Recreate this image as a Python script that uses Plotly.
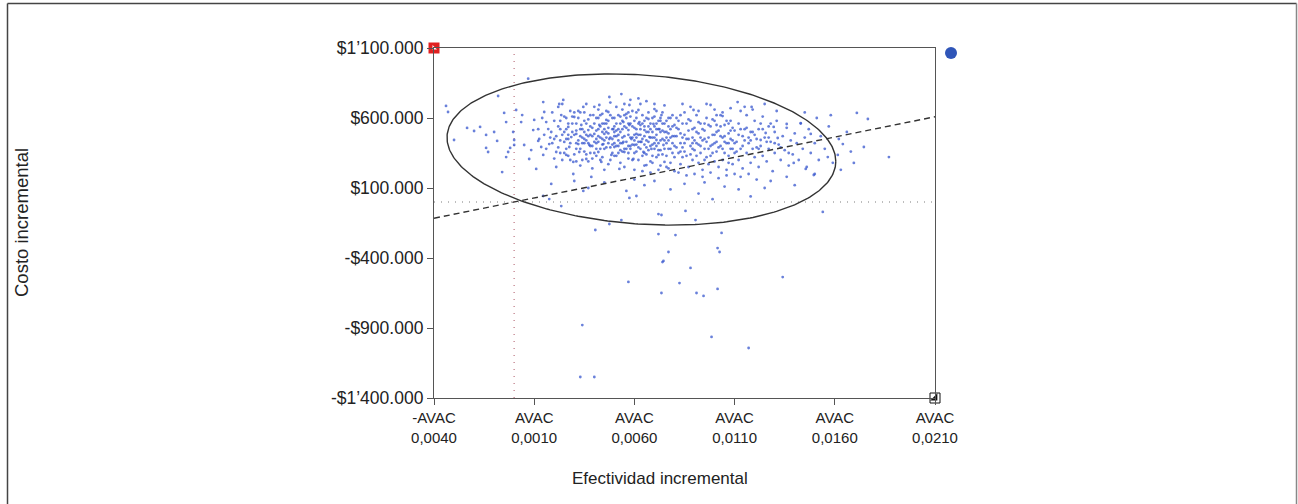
import numpy as np
import plotly.graph_objects as go

# ---------------- axis definitions ----------------
x_range = [-0.004, 0.021]
y_range = [-1400000, 1100000]
x_tickvals = [-0.004, 0.001, 0.006, 0.011, 0.016, 0.021]
x_ticktext = ["-AVAC<br>0,0040", "AVAC<br>0,0010", "AVAC<br>0,0060",
              "AVAC<br>0,0110", "AVAC<br>0,0160", "AVAC<br>0,0210"]
y_tickvals = [1100000, 600000, 100000, -400000, -900000, -1400000]
y_ticktext = ["$1\u2019100.000", "$600.000", "$100.000", "-$400.000",
              "-$900.000", "-$1\u2019400.000"]
x_title = "Efectividad incremental"
y_title = "Costo incremental"

# ---------------- simulation points (x: AVAC x 1e-4, y: $ thousands) ----------------
points_left = [(-34,686),(-33,643),(-30,443),(-23.5,529),(-20,507),(-17,536),(-14,479),(-14,386),(-13,357),(-10,500),
    (-8.5,436),(-8,757),(-6,214),(-5,636),(-4,571),(-4,321),(-3,357),(-2,386),(-0.5,500),(0,443),(0,407),(1,657),
    (3.5,571),(4,621),(5,407),(7,881),(7.5,307),(8.5,371),(9.5,514),(10,586),(11,236),(12,436),(12.5,450),(13.5,393),
    (14.5,714),(14.5,336),(15,643),(16,571),(17,521),(17.5,414),(18.5,500),(20,450),(21,357),(22,679),(22.5,700),
    (23.5,621),(24.5,729),(25,500),(25,429),(26,336),(27,536),(27.5,393),(28.5,464),(29.5,286),(29.5,200),(30,607),
    (31,486),(32,414),(32.5,357),(33.5,550),(34.5,679),(35,450),(36,307),(37,514),(37.5,407),(38.5,179),(39.5,621),
    (40,486),(41,450),(42,357),(42.5,693),(42.5,550),(43.5,286),(44.5,414),(45,486),(46,586),(47,643),(47.5,750),
    (47.5,450),(48.5,336),(49.5,521),(50,393),(51,679),(52,479),(52.5,236),(53.5,771),(54.5,571),(54.5,429),(55,357),
    (56,629),(57,514),(57.5,550),(57.5,693),(58.5,450),(59.5,307),(60,407),(61,486),(62,657),(62.5,571),(63.5,429),
    (64.5,357),(65,514),(66,264),(67,593),(67.5,464),(68.5,379),(69.5,557),(70,664),(71,443),(72,336),(72.5,521),
    (73.5,621),(74.5,407),(75,286)]

points_band_20_50 = [(20,580),(21,470),(22,390),(23,520),(24,300),(25,610),(26,450),(26,380),(27,560),(28,420),
    (28,650),(29,500),(30,340),(31,560),(31,420),(32,600),(33,470),(33,380),(34,520),(35,640),(35,360),(36,440),
    (36,560),(37,290),(38,480),(38,620),(39,400),(39,530),(40,350),(40,680),(41,510),(41,420),(42,600),(42,470),
    (43,380),(43,540),(44,320),(44,630),(45,440),(45,560),(46,390),(46,500),(47,270),(47,580),(48,460),(48,620),
    (49,410),(49,350),(50,540),(50,470),(21,250),(24,700),(27,330),(30,640),(33,260),(36,700),(39,240),(42,660),
    (45,230),(48,710),(23,440),(29,610),(34,300),(37,590),(41,330),(44,500),(47,420),(50,600),(25,350),(32,440),
    (38,350),(43,460),(46,650),(49,520),(31,290),(40,560),(26,520),(35,500),(44,410),(48,300)]

points_band_50_80 = [(50,420),(51,560),(51,330),(52,620),(52,400),(53,500),(53,280),(54,460),(54,660),(55,380),
    (55,540),(56,430),(56,600),(57,310),(57,480),(58,560),(58,400),(59,650),(59,460),(60,350),(60,530),(61,600),
    (61,410),(62,480),(62,300),(63,550),(63,380),(64,620),(64,450),(65,410),(65,580),(66,340),(66,500),(67,640),
    (67,430),(68,290),(68,520),(69,460),(69,600),(70,380),(70,540),(71,480),(71,320),(72,580),(72,420),(73,500),
    (73,260),(74,640),(74,450),(75,380),(75,560),(76,500),(76,330),(77,600),(77,440),(78,520),(78,280),(79,470),
    (79,620),(80,400),(80,550),(51,470),(53,610),(55,250),(57,640),(59,300),(61,520),(63,700),(65,260),(67,370),
    (69,330),(71,650),(73,370),(75,690),(77,240),(79,350),(52,350),(54,520),(56,380),(58,460),(60,440),(62,560),
    (64,330),(66,440),(68,400),(70,460),(72,520),(74,340),(76,420),(78,380),(80,320),(58,730),(62,740),(66,720),
    (70,700),(55,700),(60,230),(64,220),(68,210),(72,230),(76,250),(80,220),(53,420),(57,400),(61,360),(65,470),
    (69,410),(73,440),(77,490),(54,580),(63,480),(71,400)]

points_band_80_110 = [(81,470),(81,600),(82,350),(82,520),(83,420),(83,270),(84,560),(84,390),(85,480),(85,640),
    (86,330),(86,450),(87,510),(87,250),(88,400),(88,580),(89,460),(89,300),(90,530),(90,370),(91,620),(91,420),
    (92,280),(92,490),(93,350),(93,560),(94,440),(94,230),(95,510),(95,380),(96,600),(96,320),(97,460),(97,270),
    (98,540),(98,400),(99,350),(99,480),(100,290),(100,580),(101,430),(101,360),(102,510),(102,250),(103,620),
    (103,400),(104,460),(104,300),(105,550),(105,350),(106,420),(106,230),(107,490),(107,330),(108,580),(108,380),
    (109,440),(109,270),(110,510),(110,350),(84,700),(88,680),(92,650),(96,700),(100,660),(104,640),(108,670),
    (82,210),(86,190),(90,200),(94,180),(98,210),(102,170),(106,190),(110,200),(83,620),(89,380),(95,450),
    (101,550),(107,420),(104,614),(98,693),(89.5,657)]

points_band_110_140 = [(111,430),(112,300),(112,560),(113,380),(114,470),(114,240),(115,520),(116,350),(116,620),
    (117,420),(118,280),(118,500),(119,380),(120,580),(120,320),(121,450),(122,250),(122,520),(123,400),(124,330),
    (124,610),(125,460),(126,290),(127,540),(127,380),(128,430),(129,220),(130,500),(130,350),(131,580),(132,410),
    (133,300),(134,470),(135,370),(136,530),(137,260),(138,440),(139,340),(140,490),(115,680),(119,660),(125,700),
    (131,650),(113,180),(121,160),(128,150),(136,180),(117,200),(133,390),(136,557),(129.5,536),(125.5,493),
    (123,443),(118.5,679),(113,650),(111.5,714),(131.5,457),(137,350),(139.5,279)]

points_band_140_190 = [(141,420),(142,300),(143,560),(144,380),(145,460),(146,250),(147,520),(148,350),(150,420),
    (151,600),(152,300),(153,470),(155,380),(156.5,321),(157,540),(159,280),(161.5,336),(162,450),(164,414),
    (166,500),(168,360),(169.5,279),(171,636),(174.5,393),(176.5,593),(187,321),(145,640),(150,200),(158,620),
    (163,230),(143,564),(148,486),(149.5,193),(145.5,236)]

points_dense_extra = [(12,520),(14,600),(16,380),(18,460),(19,640),(20,310),(22,540),(23,350),(24,480),(26,600),
    (27,450),(28,300),(29,560),(30,480),(31,380),(32,650),(33,520),(34,420),(35,580),(36,340),(37,470),(38,540),
    (39,310),(40,430),(41,600),(42,520),(43,300),(44,560),(45,380),(46,460),(47,530),(48,390),(49,600),(50,330),
    (51,510),(52,440),(53,560),(54,360),(55,470),(56,530),(57,350),(58,610),(59,410),(60,580),(61,460),(62,390),
    (63,520),(64,560),(65,350),(66,600),(67,500),(68,460),(69,280),(70,610),(71,560),(72,370),(73,600),(74,510),
    (75,440),(76,580),(77,380),(78,460),(79,540),(80,470),(81,390),(82,580),(83,490),(84,320),(85,420),(86,560),
    (87,450),(88,340),(89,520),(90,440),(91,330),(92,570),(93,460),(94,520),(95,300),(96,430),(97,550),(98,330),
    (99,590),(100,420),(101,500),(102,390),(103,540),(104,380),(105,470),(106,580),(107,280),(108,450),(109,530),
    (110,420),(112,480),(114,400),(116,530),(118,440),(120,480),(122,380),(124,520),(126,430),(128,560),(130,420),
    (15,480),(19,420),(23,580),(27,480),(31,510),(35,420),(39,470),(43,620),(47,490),(51,400),(55,620),(59,540),
    (63,430),(67,540),(71,520),(75,500),(79,420),(83,360),(87,590),(91,500),(95,560),(99,410),(103,470),(107,560),
    (111,360),(115,440),(119,500),(123,560),(127,460),(33,640),(37,420),(41,380),(45,520),(49,450),(53,370),
    (57,560),(61,640),(65,540),(69,500),(73,580),(77,540),(81,530),(85,360),(89,420),(93,400),(97,380),(101,620),
    (105,430),(109,380),(113,520),(117,460),(121,390),(36,480),(44,450),(52,520),(60,480),(68,560),(76,460),
    (84,460),(92,410),(100,480),(108,510),(58,380),(62,430),(66,390),(70,420),(74,560),(78,600),(54,420),(50,500),
    (46,560),(42,430),(38,400),(34,460)]

points_low = [(65,120),(78,90),(92,60),(105,110),(118,40),(70,150),(85,130),(99,20),(112,90),(125,100),(60,160),
    (45,140),(30,150),(140,120),(95,140),
    (18.5,129),(40.5,-200),(57,-571),(73.5,-650),(34,-879),(33,-1250),(40,-1250),(72,-229),(74.5,-421),(80.5,-236),
    (77,-357),(74,-429),(88,-471),(82.5,-579),(91,-650),(94.5,-671),(101.5,-621),(101.5,-329),(102.5,-357),
    (103.5,-221),(134,-536),(98.5,-964),(117,-1043),(85.5,-64),(90.5,-129),(53.5,-129),(47.5,-157),(72,-86),
    (73.5,-93),(57.5,29),(61,43),(56,79),(34.5,79),(23.5,-29),(17.5,21),(14.5,43),(37,100),(154,-71)]

all_points = (points_left + points_band_20_50 + points_band_50_80 + points_band_80_110
              + points_band_110_140 + points_band_140_190 + points_dense_extra + points_low)
sim_x = [p[0] * 1e-4 for p in all_points]
sim_y = [p[1] * 1000 for p in all_points]

# ---------------- reference lines & confidence ellipse ----------------
wtp_threshold = 29000000          # $ per AVAC (dashed line through origin)
ellipse_center_x = 0.00635
ellipse_center_y = 375000
ellipse_half_x = 0.0097
ellipse_half_y = 540000
ellipse_corr = -0.157

t = np.linspace(0, 2 * np.pi, 361)
ell_x = ellipse_center_x + ellipse_half_x * np.cos(t)
ell_y = ellipse_center_y + ellipse_half_y * (ellipse_corr * np.cos(t) + np.sqrt(1 - ellipse_corr ** 2) * np.sin(t))

fig = go.Figure()

# origin dotted lines
fig.add_trace(go.Scatter(x=[0, 0], y=y_range, mode="lines",
                         line=dict(color="#c98f99", width=1.5, dash="1px,6px"), hoverinfo="skip"))
fig.add_trace(go.Scatter(x=x_range, y=[0, 0], mode="lines",
                         line=dict(color="#a8a8a8", width=1.5, dash="1px,6px"), hoverinfo="skip"))

# simulations
fig.add_trace(go.Scatter(x=sim_x, y=sim_y, mode="markers",
                         marker=dict(size=2.8, color="rgba(55,85,205,0.75)", line=dict(width=0))))

# threshold dashed line
fig.add_trace(go.Scatter(x=x_range, y=[wtp_threshold * x_range[0], wtp_threshold * x_range[1]], mode="lines",
                         line=dict(color="#333333", width=1.4, dash="6px,4px"), hoverinfo="skip"))

# ellipse
fig.add_trace(go.Scatter(x=ell_x, y=ell_y, mode="lines",
                         line=dict(color="#333333", width=1.4), hoverinfo="skip"))

# corner icons
fig.add_trace(go.Scatter(x=[x_range[0]], y=[y_range[1]], mode="markers", cliponaxis=False,
                         marker=dict(symbol="square", size=11, color="#e02020", line=dict(width=0))))
fig.add_trace(go.Scatter(x=[x_range[0]], y=[y_range[1]], mode="markers", cliponaxis=False,
                         marker=dict(symbol="triangle-sw", size=5, color="white", line=dict(width=0))))
fig.add_trace(go.Scatter(x=[x_range[1]], y=[y_range[0]], mode="markers", cliponaxis=False,
                         marker=dict(symbol="square", size=10, color="white", line=dict(width=1, color="#111"))))
fig.add_trace(go.Scatter(x=[x_range[1]], y=[y_range[0]], mode="markers", cliponaxis=False,
                         marker=dict(symbol="triangle-se", size=8, color="#111", line=dict(width=0))))

fig.update_layout(
    width=1298, height=504,
    margin=dict(l=434, r=363, t=48, b=106),
    paper_bgcolor="white", plot_bgcolor="white",
    showlegend=False,
    font=dict(family="Arial, Liberation Sans, sans-serif", color="#222"),
)
fig.update_xaxes(range=x_range, tickvals=x_tickvals, ticktext=x_ticktext, showgrid=False, zeroline=False,
                 showline=True, linecolor="#555", linewidth=1.2, mirror=True,
                 ticks="outside", ticklen=6, tickcolor="#555", tickfont=dict(size=15, color="#222"))
fig.update_yaxes(range=y_range, tickvals=y_tickvals, ticktext=y_ticktext, showgrid=False, zeroline=False,
                 showline=True, linecolor="#555", linewidth=1.2, mirror=True,
                 ticks="outside", ticklen=6, tickcolor="#555", tickfont=dict(size=17.5, color="#222"))

# blue circle icon (top-right corner, outside the plot area)
fig.add_shape(type="circle", xref="paper", yref="paper", xsizemode="pixel", ysizemode="pixel",
              xanchor=(951 - 434) / 501, yanchor=(398 - 53) / 350, x0=-6, x1=6, y0=-6, y1=6,
              fillcolor="#2f55b8", line=dict(width=0), layer="above")

# axis titles
fig.add_annotation(text=x_title, xref="paper", yref="paper", x=(660 - 434) / 501, y=(398 - 478) / 350,
                   showarrow=False, font=dict(size=17, color="#222"), xanchor="center", yanchor="middle")
fig.add_annotation(text=y_title, xref="paper", yref="paper", x=(21 - 434) / 501, y=(398 - 223) / 350,
                   showarrow=False, textangle=-90, font=dict(size=18.5, color="#222"),
                   xanchor="center", yanchor="middle")

# outer frame
fx0, fx1 = (7.5 - 434) / 501, (1296.5 - 434) / 501
fy_top, fy_bot = (398 - 3.5) / 350, (398 - 520) / 350
fig.add_shape(type="line", xref="paper", yref="paper", x0=fx0, x1=fx1, y0=fy_top, y1=fy_top,
              line=dict(color="#444", width=1.5))
fig.add_shape(type="line", xref="paper", yref="paper", x0=fx0, x1=fx0, y0=fy_top, y1=fy_bot,
              line=dict(color="#444", width=1.5))
fig.add_shape(type="line", xref="paper", yref="paper", x0=fx1, x1=fx1, y0=fy_top, y1=fy_bot,
              line=dict(color="#888", width=1.5))

fig.write_html("out.html")
